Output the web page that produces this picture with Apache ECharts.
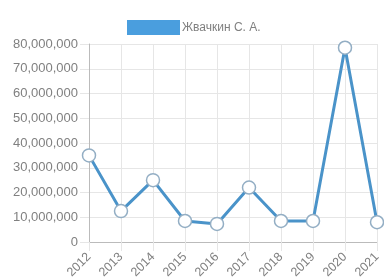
<!DOCTYPE html>
<html>
<head>
<meta charset="utf-8">
<script src="https://cdn.jsdelivr.net/npm/echarts@6/dist/echarts.min.js"></script>
<style>
html,body{margin:0;padding:0;background:#fff;}
#chart{width:384px;height:279px;}
</style>
</head>
<body>
<div id="chart"></div>
<script>
// data
var years = ['2012','2013','2014','2015','2016','2017','2018','2019','2020','2021'];
var seriesName = 'Жвачкин С. А.';
var values = [35000000, 12500000, 25000000, 8500000, 7300000, 22000000, 8500000, 8500000, 78500000, 8000000];
var yTicks = [0, 10000000, 20000000, 30000000, 40000000, 50000000, 60000000, 70000000, 80000000];

var chart = echarts.init(document.getElementById('chart'));
var textColor = '#808080';
var gridColor = '#e6e6e6';

var option = {
    animation: false,
    textStyle: {fontFamily: '"Liberation Sans", Arial, sans-serif'},
    legend: {
        top: 15,
        left: 122,
        itemWidth: 53,
        itemHeight: 15,
        itemGap: 6,
        icon: 'rect',
        itemStyle: {color: '#4a9ede', borderWidth: 0},
        textStyle: {color: textColor, fontSize: 12, padding: [0, 0, 0, -3]},
        data: [seriesName]
    },
    grid: {left: 89, right: 7, top: 44, bottom: 37, outerBoundsMode: 'none'},
    xAxis: {
        type: 'category',
        data: years,
        boundaryGap: false,
        axisLine: {lineStyle: {color: '#bbb'}},
        axisTick: {show: true, length: 9, lineStyle: {color: gridColor}},
        axisLabel: {color: textColor, fontSize: 12.5, rotate: 45, margin: 13},
        splitLine: {show: true, lineStyle: {color: gridColor}}
    },
    yAxis: {
        type: 'value',
        min: yTicks[0],
        max: yTicks[yTicks.length - 1],
        interval: 10000000,
        axisLine: {show: true, lineStyle: {color: '#bbb'}},
        axisTick: {show: true, length: 9, lineStyle: {color: gridColor}},
        axisLabel: {
            color: textColor, fontSize: 13, margin: 11,
            formatter: function (v) { return v.toLocaleString('en-US'); }
        },
        splitLine: {lineStyle: {color: gridColor}}
    },
    series: [{
        name: seriesName,
        type: 'line',
        data: values,
        color: '#4a9ede',
        symbol: 'circle',
        symbolSize: 13,
        lineStyle: {width: 3, color: '#4a93c9'},
        itemStyle: {color: '#ffffff', borderColor: '#93aec4', borderWidth: 1.5}
    }]
};
chart.setOption(option);
</script>
</body>
</html>
